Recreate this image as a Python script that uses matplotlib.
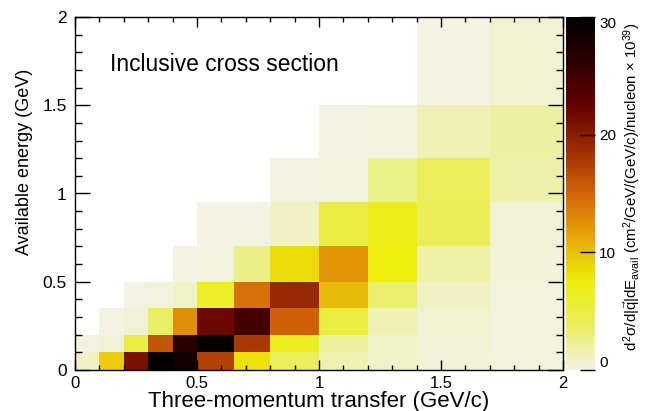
import matplotlib
matplotlib.use('Agg')
import matplotlib.pyplot as plt
import numpy as np
from matplotlib.colors import LinearSegmentedColormap
from matplotlib.ticker import MultipleLocator, FuncFormatter

plt.rcParams['font.family'] = ['Liberation Sans', 'DejaVu Sans']
plt.rcParams['mathtext.fontset'] = 'custom'
plt.rcParams['mathtext.rm'] = 'Liberation Sans'
plt.rcParams['mathtext.it'] = 'Liberation Sans'
plt.rcParams['mathtext.bf'] = 'Liberation Sans:bold'

# bin edges (GeV/c, GeV)
q_edges = [0, 0.1, 0.2, 0.3, 0.4, 0.5, 0.65, 0.8, 1.0, 1.2, 1.4, 1.7, 2.0]
e_edges = [0, 0.1, 0.2, 0.35, 0.5, 0.7, 0.95, 1.2, 1.5, 2.0]

nan = np.nan
# cross section per bin, rows = energy bins (bottom -> top), x 10^-39
xsec = [
    [1.0, 9.3, 21.0, 30.0, 28.5, 17.4, 8.2, 4.0, 1.5, 0.9, 0.4, 0.3],
    [0.3, 0.5, 5.1, 16.0, 26.5, 29.3, 17.9, 6.6, 2.1, 0.9, 0.5, 0.3],
    [nan, 0.15, 0.5, 3.7, 12.6, 21.8, 24.5, 15.3, 5.1, 1.5, 0.7, 0.3],
    [nan, nan, 0.15, 0.3, 0.9, 6.2, 14.4, 19.1, 10.3, 3.3, 1.0, 0.3],
    [nan, nan, nan, nan, 0.15, 0.3, 2.8, 8.4, 12.3, 7.3, 1.8, 0.4],
    [nan, nan, nan, nan, nan, 0.15, 0.2, 1.0, 5.1, 7.0, 4.2, 0.5],
    [nan, nan, nan, nan, nan, nan, nan, 0.15, 0.3, 2.6, 4.0, 1.7],
    [nan, nan, nan, nan, nan, nan, nan, nan, 0.2, 0.25, 1.3, 1.9],
    [nan, nan, nan, nan, nan, nan, nan, nan, nan, nan, 0.2, 0.6],
]
cbar_ticks = [0, 10, 20, 30]

# ROOT kDarkBodyRadiator, inverted
red = [242, 234, 237, 230, 212, 156, 99, 45, 0]
green = [243, 238, 238, 168, 101, 45, 0, 0, 0]
blue = [230, 95, 11, 8, 9, 3, 1, 0, 0]
cols = [(r / 255, g / 255, b / 255) for r, g, b in zip(red, green, blue)]
cmap = LinearSegmentedColormap.from_list('darkbody_inv', cols, N=255)
cmap.set_bad('white')

fig = plt.figure(figsize=(6.47, 4.11), dpi=100)
ax = fig.add_axes([75 / 647, 41 / 411, 488 / 647, 353 / 411])
cax = fig.add_axes([566 / 647, 41 / 411, 29 / 647, 353 / 411])

Z = np.ma.masked_invalid(np.array(xsec))
mesh = ax.pcolormesh(q_edges, e_edges, Z, cmap=cmap, vmin=0, vmax=30)

ax.set_xlim(0, 2)
ax.set_ylim(0, 2)
ax.xaxis.set_major_locator(MultipleLocator(0.5))
ax.xaxis.set_minor_locator(MultipleLocator(0.1))
ax.yaxis.set_major_locator(MultipleLocator(0.5))
ax.yaxis.set_minor_locator(MultipleLocator(0.1))
fmt = FuncFormatter(lambda v, p: '%g' % v)
ax.xaxis.set_major_formatter(fmt)
ax.yaxis.set_major_formatter(fmt)
ax.tick_params(which='both', direction='in', top=True, right=True, width=1)
ax.tick_params(axis='x', which='major', length=7.2, pad=4, labelsize=12)
ax.tick_params(axis='x', which='minor', length=3.6)
ax.tick_params(axis='y', which='major', length=10.8, pad=6, labelsize=12.5)
ax.tick_params(axis='y', which='minor', length=5)
for s in ax.spines.values():
    s.set_linewidth(1)

ax.set_xlabel('Three-momentum transfer (GeV/c)', fontsize=16, labelpad=0)
ax.set_ylabel('Available energy (GeV)', fontsize=13)
ax.yaxis.set_label_coords(-0.087, 0.589)

ax.text(0.143, 1.694, 'Inclusive cross section', fontsize=16.4, ha='left', va='baseline')

cb = fig.colorbar(mesh, cax=cax, ticks=cbar_ticks)
cb.outline.set_visible(False)
cax.tick_params(direction='in', length=10.8, width=1, labelsize=11, pad=3)
cax.minorticks_off()
cb_labels = cax.get_yticklabels()
cb_labels[0].set_verticalalignment('bottom')
cb_labels[-1].set_verticalalignment('top')

fig.text(632 / 647, 0.545,
         r'$d^{2}\sigma/d|\vec{q}|dE_{avail}$ (cm$^{2}$/GeV/(GeV/c)/nucleon $\times$ 10$^{39}$)',
         rotation=90, ha='center', va='center', fontsize=10.8)

fig.savefig('out.png', dpi=100)
